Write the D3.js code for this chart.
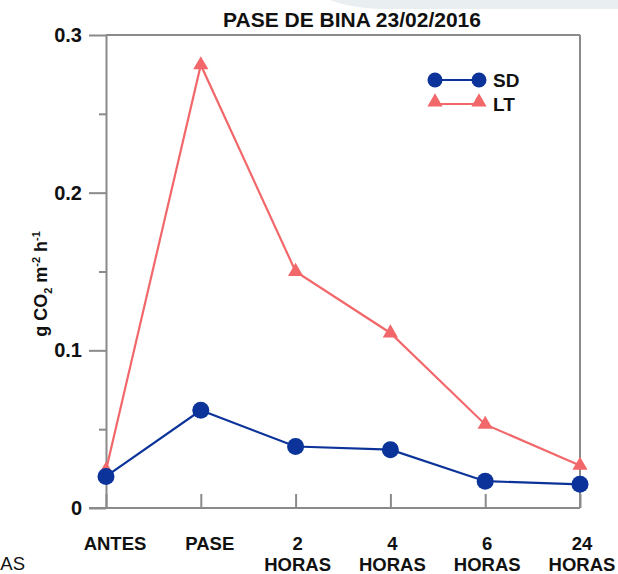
<!DOCTYPE html>
<html>
<head>
<meta charset="utf-8">
<script src="https://cdn.jsdelivr.net/npm/d3@7"></script>
<style>
  body { margin: 0; background: #fff; }
  svg { font-family: "Liberation Sans", Arial, sans-serif; }
</style>
</head>
<body>
<svg id="chart" width="618" height="574"></svg>
<script>
  // data
  const categories = ['ANTES', 'PASE', '2 HORAS', '4 HORAS', '6 HORAS', '24 HORAS'];
  const sdValues = [0.020, 0.062, 0.039, 0.037, 0.017, 0.015];
  const ltValues = [0.024, 0.281, 0.150, 0.111, 0.053, 0.027];
  const majorTicks = [0, 0.1, 0.2, 0.3];
  const minorTicks = [0.05, 0.15, 0.25];

  const svg = d3.select('#chart');
  const plotLeft = 106, plotRight = 580, plotTop = 35, plotBottom = 508;
  const axisColor = '#8a8a8a';
  const sdColor = '#0b3399';
  const ltColor = '#f2676a';

  const x = d3.scalePoint().domain(categories).range([plotLeft, plotRight]).padding(0);
  const y = d3.scaleLinear().domain([0, 0.3]).range([plotBottom, plotTop]);

  // faint slide decoration in the top right corner
  svg.append('path')
     .attr('d', 'M330,0 L618,0 L618,9 L380,9 Q350,8 330,0 Z')
     .attr('fill', '#e9eef1');

  // frame
  svg.append('line').attr('x1', plotLeft).attr('x2', plotRight).attr('y1', plotTop).attr('y2', plotTop)
     .attr('stroke', axisColor).attr('stroke-width', 2);
  svg.append('line').attr('x1', plotRight).attr('x2', plotRight).attr('y1', plotTop).attr('y2', plotBottom)
     .attr('stroke', axisColor).attr('stroke-width', 2);

  // y axis
  const yAxis = svg.append('g').attr('transform', `translate(${plotLeft},0)`)
     .call(d3.axisLeft(y).tickValues(majorTicks).tickSize(17).tickSizeOuter(0)
       .tickPadding(7).tickFormat(d => d === 0 ? '0' : d3.format('.1f')(d)));
  svg.append('g').attr('transform', `translate(${plotLeft},0)`)
     .call(d3.axisLeft(y).tickValues(minorTicks).tickSize(7).tickSizeOuter(0).tickFormat(''))
     .select('.domain').remove();

  // x axis, ticks pointing inward
  const xAxis = svg.append('g').attr('transform', `translate(0,${plotBottom})`)
     .call(d3.axisBottom(x).tickSize(-14).tickSizeOuter(0).tickFormat(''));
  xAxis.select('.domain').attr('d', `M${plotLeft - 17},0H${plotRight}`);

  svg.selectAll('.domain, .tick line').attr('stroke', axisColor).attr('stroke-width', 2);
  yAxis.selectAll('.tick text')
       .attr('font-size', 20).attr('font-weight', 'bold').attr('fill', '#111');

  // multi-line category labels
  const labels = svg.append('g');
  categories.forEach((c, i) => {
    const parts = c.split(' ');
    const cx = x(c) + (parts.length === 1 ? 9 : 2);
    const t = labels.append('text')
      .attr('y', 550)
      .attr('text-anchor', 'middle')
      .attr('font-size', 18.5)
      .attr('font-weight', 'bold')
      .attr('fill', '#111');
    parts.forEach((p, j) => {
      t.append('tspan').attr('x', cx).attr('dy', j === 0 ? 0 : 21).text(p);
    });
  });

  // visible tail of a label from the neighbouring chart
  svg.append('text').attr('x', 25).attr('y', 570).attr('text-anchor', 'end')
     .attr('font-size', 18.5).attr('fill', '#111').text('AS');

  // title
  svg.append('text').attr('x', 352).attr('y', 27).attr('text-anchor', 'middle')
     .attr('font-size', 21).attr('font-weight', 'bold').attr('fill', '#111')
     .text('PASE DE BINA 23/02/2016');

  // y axis title
  const yt = svg.append('text')
     .attr('transform', 'translate(47,284) rotate(-90)')
     .attr('text-anchor', 'middle').attr('font-size', 18).attr('font-weight', 'bold').attr('fill', '#111');
  yt.append('tspan').text('g CO');
  yt.append('tspan').attr('font-size', 11).attr('dy', 5).text('2');
  yt.append('tspan').attr('dy', -5).text(' m');
  yt.append('tspan').attr('font-size', 11).attr('dy', -7).text('-2');
  yt.append('tspan').attr('dy', 7).text(' h');
  yt.append('tspan').attr('font-size', 11).attr('dy', -7).text('-1');

  const line = d3.line().x((d, i) => x(categories[i])).y(d => y(d));
  const tri = d3.symbol().type(d3.symbolTriangle).size(100);

  // LT series
  svg.append('path').attr('d', line(ltValues)).attr('fill', 'none')
     .attr('stroke', ltColor).attr('stroke-width', 2.2);
  svg.append('g').selectAll('path').data(ltValues).join('path')
     .attr('d', tri)
     .attr('transform', (d, i) => `translate(${x(categories[i])},${y(d)})`)
     .attr('fill', ltColor);

  // SD series
  svg.append('path').attr('d', line(sdValues)).attr('fill', 'none')
     .attr('stroke', sdColor).attr('stroke-width', 2.2);
  svg.append('g').selectAll('circle').data(sdValues).join('circle')
     .attr('cx', (d, i) => x(categories[i]))
     .attr('cy', d => y(d))
     .attr('r', 8.5)
     .attr('fill', sdColor);

  // legend
  const legend = svg.append('g').attr('transform', 'translate(435,80)');
  legend.append('line').attr('x1', 0).attr('x2', 44).attr('stroke', sdColor).attr('stroke-width', 2.2);
  legend.selectAll('circle').data([0, 44]).join('circle')
     .attr('cx', d => d).attr('r', 7.5).attr('fill', sdColor);
  legend.append('text').attr('x', 58).attr('y', 7).attr('font-size', 19)
     .attr('font-weight', 'bold').attr('fill', '#111').text('SD');
  legend.append('line').attr('x1', 0).attr('x2', 44).attr('y1', 24).attr('y2', 24)
     .attr('stroke', ltColor).attr('stroke-width', 2.2);
  legend.selectAll('path.m').data([0, 44]).join('path').attr('class', 'm')
     .attr('d', tri).attr('transform', d => `translate(${d},22)`).attr('fill', ltColor);
  legend.append('text').attr('x', 58).attr('y', 31).attr('font-size', 19)
     .attr('font-weight', 'bold').attr('fill', '#111').text('LT');
</script>
</body>
</html>
